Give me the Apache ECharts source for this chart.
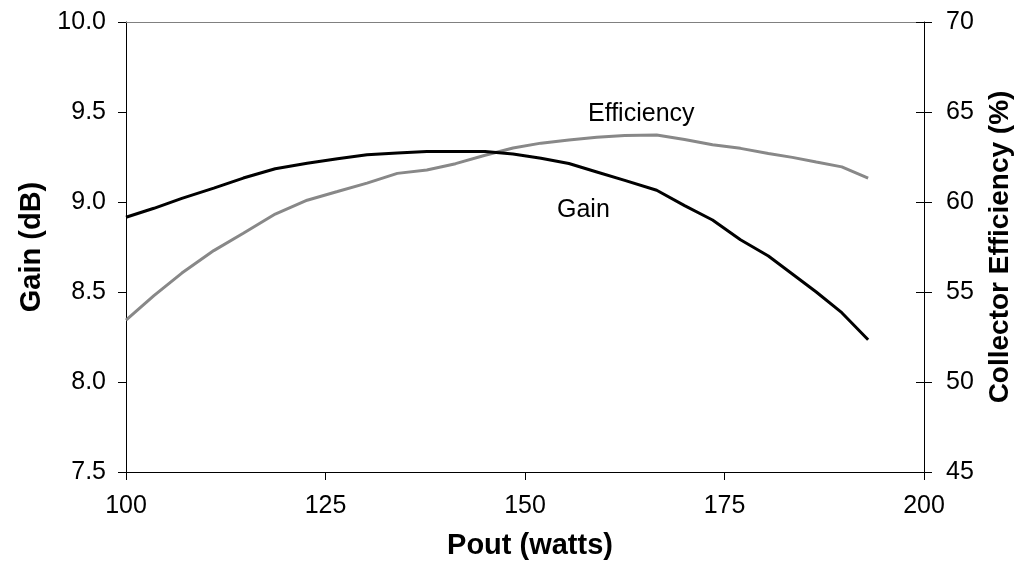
<!DOCTYPE html>
<html>
<head>
<meta charset="utf-8">
<script src="https://cdn.jsdelivr.net/npm/echarts@6/dist/echarts.min.js"></script>
<style>html,body{margin:0;padding:0;background:#fff;}#c{width:1016px;height:563px;}</style>
</head>
<body>
<div id="c"></div>
<script>
const poutWatts = [100, 103.5, 107, 111, 114.7, 118.7, 122.7, 126.5, 130.2, 134, 137.7, 141.3, 145, 148.5, 152, 155.5, 159, 162.5, 166.5, 170, 173.5, 177, 180.5, 183.5, 186.5, 189.7, 193];
const gainDb = [8.915, 8.965, 9.02, 9.077, 9.133, 9.185, 9.215, 9.24, 9.262, 9.272, 9.28, 9.28, 9.28, 9.267, 9.243, 9.214, 9.167, 9.12, 9.065, 8.98, 8.9, 8.79, 8.70, 8.60, 8.50, 8.385, 8.235];
const efficiencyPct = [53.44, 54.8, 56.05, 57.3, 58.26, 59.33, 60.1, 60.58, 61.05, 61.59, 61.78, 62.13, 62.6, 63.0, 63.27, 63.45, 63.6, 63.7, 63.72, 63.47, 63.18, 62.98, 62.7, 62.48, 62.22, 61.95, 61.33];
const xTicks = {min: 100, max: 200, interval: 25};
const gainTicks = {min: 7.5, max: 10, interval: 0.5};
const effTicks = {min: 45, max: 70, interval: 5};

const FONT = 'Liberation Sans, Arial, sans-serif';
const chart = echarts.init(document.getElementById('c'), null, {renderer: 'canvas'});
const labelStyle = {color: '#000', fontFamily: FONT, fontSize: 25};
const nameStyle = {color: '#000', fontFamily: FONT, fontSize: 29, fontWeight: 'bold'};

chart.setOption({
  animation: false,
  backgroundColor: '#fff',
  grid: {left: 126, right: 92, top: 22, bottom: 91, containLabel: false, outerBoundsMode: 'none'},
  xAxis: [{
    type: 'value', min: xTicks.min, max: xTicks.max, interval: xTicks.interval,
    position: 'bottom',
    name: 'Pout (watts)', nameLocation: 'middle', nameGap: 59,
    nameTextStyle: Object.assign({}, nameStyle, {padding: [0, 0, 0, 10]}),
    axisLine: {show: true, lineStyle: {color: '#000', width: 1}},
    axisTick: {show: true, length: 8, lineStyle: {color: '#000'}},
    axisLabel: Object.assign({margin: 22}, labelStyle),
    splitLine: {show: false}
  }, {
    type: 'value', min: xTicks.min, max: xTicks.max, position: 'top',
    axisLine: {show: true, onZero: false, lineStyle: {color: '#808080', width: 1}},
    axisTick: {show: false}, axisLabel: {show: false}, splitLine: {show: false}
  }],
  yAxis: [{
    type: 'value', min: gainTicks.min, max: gainTicks.max, interval: gainTicks.interval,
    position: 'left',
    name: 'Gain (dB)', nameLocation: 'middle', nameGap: 80, nameTextStyle: nameStyle,
    axisLine: {show: true, lineStyle: {color: '#000', width: 1}},
    axisTick: {show: true, length: 8, lineStyle: {color: '#000'}},
    axisLabel: Object.assign({margin: 20, formatter: v => v.toFixed(1)}, labelStyle),
    splitLine: {show: false}
  }, {
    type: 'value', min: effTicks.min, max: effTicks.max, interval: effTicks.interval,
    position: 'right',
    name: 'Collector Efficiency (%)', nameLocation: 'middle', nameGap: 62,
    nameTextStyle: Object.assign({}, nameStyle, {fontSize: 28}),
    axisLine: {show: true, lineStyle: {color: '#000', width: 1}},
    axisTick: {show: true, length: 8, lineStyle: {color: '#000'}},
    axisLabel: Object.assign({margin: 22}, labelStyle),
    splitLine: {show: false}
  }, {
    type: 'value', min: effTicks.min, max: effTicks.max, interval: effTicks.interval,
    position: 'right',
    axisLine: {show: false},
    axisTick: {show: true, inside: true, length: 8, lineStyle: {color: '#000'}},
    axisLabel: {show: false},
    splitLine: {show: false}
  }],
  series: [{
    name: 'Gain', type: 'line', xAxisIndex: 0, yAxisIndex: 0,
    data: poutWatts.map((x, i) => [x, gainDb[i]]),
    showSymbol: false, symbol: 'none', smooth: false,
    lineStyle: {color: '#000', width: 3}, z: 3
  }, {
    name: 'Efficiency', type: 'line', xAxisIndex: 0, yAxisIndex: 1,
    data: poutWatts.map((x, i) => [x, efficiencyPct[i]]),
    showSymbol: false, symbol: 'none', smooth: false,
    lineStyle: {color: '#888888', width: 3}, z: 2
  }],
  graphic: [{
    type: 'text', left: 588, top: 102,
    style: {text: 'Efficiency', fill: '#000', font: '25px ' + FONT}
  }, {
    type: 'text', left: 557, top: 198,
    style: {text: 'Gain', fill: '#000', font: '25px ' + FONT}
  }]
});
</script>
</body>
</html>
